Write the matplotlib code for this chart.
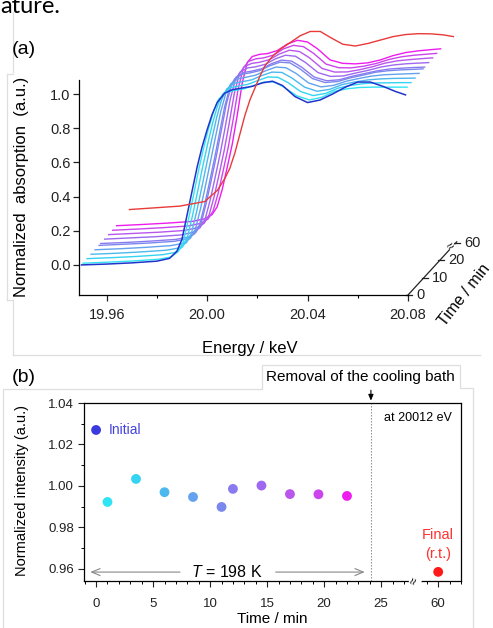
import matplotlib
matplotlib.use('Agg')
import matplotlib.pyplot as plt
import numpy as np
from matplotlib.lines import Line2D

plt.rcParams['font.family'] = ['Liberation Sans', 'DejaVu Sans']
plt.rcParams['mathtext.fontset'] = 'custom'
plt.rcParams['mathtext.it'] = 'Liberation Sans:italic'
plt.rcParams['mathtext.rm'] = 'Liberation Sans'

# ---------------- data: panel (a) spectra ----------------
energy = [19.950, 19.960, 19.970, 19.980, 19.985, 19.988, 19.990, 19.992, 19.994, 19.996,
          19.998, 20.000, 20.002, 20.004, 20.007, 20.010, 20.014, 20.018, 20.022, 20.026,
          20.030, 20.035, 20.040, 20.045, 20.050, 20.055, 20.060, 20.065, 20.070, 20.075, 20.079]

spec_initial = [0.000, 0.005, 0.012, 0.022, 0.038, 0.080, 0.150, 0.290, 0.430, 0.570,
                0.690, 0.790, 0.880, 0.950, 1.005, 1.025, 1.035, 1.045, 1.065, 1.075,
                1.050, 0.985, 0.950, 0.965, 1.000, 1.040, 1.070, 1.070, 1.045, 1.015, 0.995]

spec_01min = [0.000, 0.006, 0.013, 0.023, 0.036, 0.070, 0.130, 0.260, 0.400, 0.545,
              0.675, 0.790, 0.890, 0.960, 1.000, 1.010, 1.020, 1.040, 1.060, 1.060,
              1.030, 0.980, 0.955, 0.970, 1.005, 1.020, 1.028, 1.030, 1.030, 1.030, 1.030]
spec_03min = [0.001, 0.007, 0.014, 0.024, 0.037, 0.070, 0.128, 0.255, 0.393, 0.537,
              0.672, 0.796, 0.898, 0.964, 1.001, 1.010, 1.021, 1.043, 1.064, 1.062,
              1.031, 0.979, 0.955, 0.968, 0.999, 1.015, 1.025, 1.029, 1.030, 1.031, 1.031]
spec_06min = [0.001, 0.007, 0.015, 0.025, 0.038, 0.070, 0.126, 0.249, 0.387, 0.529,
              0.669, 0.802, 0.907, 0.968, 1.002, 1.010, 1.022, 1.047, 1.067, 1.065,
              1.032, 0.979, 0.955, 0.966, 0.994, 1.009, 1.021, 1.027, 1.030, 1.031, 1.032]
spec_08min = [0.002, 0.008, 0.016, 0.026, 0.039, 0.070, 0.125, 0.244, 0.380, 0.522,
              0.666, 0.808, 0.915, 0.973, 1.003, 1.011, 1.024, 1.050, 1.071, 1.067,
              1.034, 0.978, 0.955, 0.964, 0.988, 1.004, 1.018, 1.026, 1.029, 1.032, 1.034]
spec_11min = [0.002, 0.009, 0.016, 0.026, 0.040, 0.070, 0.123, 0.238, 0.374, 0.514,
              0.663, 0.814, 0.924, 0.977, 1.004, 1.011, 1.025, 1.053, 1.074, 1.070,
              1.035, 0.978, 0.955, 0.961, 0.982, 0.998, 1.015, 1.024, 1.029, 1.032, 1.035]
spec_12min = [0.003, 0.009, 0.017, 0.027, 0.041, 0.070, 0.122, 0.237, 0.371, 0.511,
              0.662, 0.816, 0.926, 0.978, 1.004, 1.011, 1.025, 1.055, 1.076, 1.070,
              1.035, 0.977, 0.955, 0.961, 0.981, 0.997, 1.013, 1.024, 1.029, 1.033, 1.035]
spec_14min = [0.003, 0.010, 0.017, 0.027, 0.042, 0.070, 0.120, 0.231, 0.365, 0.503,
              0.659, 0.822, 0.935, 0.982, 1.005, 1.011, 1.026, 1.058, 1.079, 1.073,
              1.036, 0.977, 0.955, 0.958, 0.975, 0.991, 1.010, 1.022, 1.029, 1.033, 1.036]
spec_17min = [0.004, 0.011, 0.018, 0.028, 0.043, 0.070, 0.119, 0.226, 0.358, 0.496,
              0.656, 0.828, 0.943, 0.987, 1.006, 1.012, 1.028, 1.061, 1.083, 1.075,
              1.038, 0.976, 0.955, 0.956, 0.969, 0.986, 1.007, 1.021, 1.028, 1.034, 1.038]
spec_19min = [0.004, 0.011, 0.019, 0.029, 0.044, 0.070, 0.117, 0.220, 0.352, 0.488,
              0.653, 0.834, 0.952, 0.991, 1.007, 1.012, 1.029, 1.065, 1.086, 1.078,
              1.039, 0.976, 0.955, 0.954, 0.964, 0.980, 1.003, 1.019, 1.028, 1.034, 1.039]
spec_22min = [0.005, 0.012, 0.020, 0.030, 0.045, 0.070, 0.115, 0.215, 0.345, 0.480,
              0.650, 0.840, 0.960, 0.995, 1.008, 1.012, 1.030, 1.068, 1.090, 1.080,
              1.040, 0.975, 0.955, 0.952, 0.958, 0.975, 1.000, 1.018, 1.028, 1.035, 1.040]

spec_final = [0.018, 0.028, 0.038, 0.065, 0.130, 0.200, 0.260, 0.350, 0.460, 0.570,
              0.660, 0.730, 0.800, 0.860, 0.915, 0.955, 0.995, 1.035, 1.060, 1.060,
              1.025, 0.985, 0.975, 0.990, 1.010, 1.030, 1.042, 1.047, 1.046, 1.040, 1.030]

# ---------------- data: panel (b) ----------------
time_min = [1, 3.5, 6, 8.5, 11, 12, 14.5, 17, 19.5, 22]
intensity = [0.9923, 1.0034, 0.9970, 0.9947, 0.9899, 0.9986, 1.0002, 0.9961, 0.9960, 0.9952]
initial_time = 0
initial_intensity = 1.027
final_time_label = '60'
final_intensity = 0.9586

b_xtick_labels = ['0', '5', '10', '15', '20', '25', '60']
a_time_labels = ['0', '10', '20', '60']

# ---------------- styles / layout ----------------
mid_colors = ['#30e4f4', '#34d4f2', '#4cb8ee', '#62a2ee', '#7a88ee', '#8a7af0',
              '#9e68f0', '#b856ee', '#cc44ee', '#ee1cee']
initial_color = '#3a3ade'
final_color = '#ff1a1a'
spec_line_initial = '#2233cc'
spec_line_final = '#e83a3a'

W, H = 493, 628
def fx(px):
    return px / W
def fy(py):
    return 1 - py / H

fig = plt.figure(figsize=(4.93, 6.28), dpi=100)

# light frame artifacts
frame_col = '#dedede'
for xs, ys in [([13, 13], [12, 72]), ([7, 7], [74, 300]), ([7, 13], [74, 74]), ([7, 13], [300, 300]),
               ([13, 13], [300, 355]), ([13, 480], [355, 355]),
               ([3, 3, 262, 262, 460, 460, 473, 473], [628, 389, 389, 365, 365, 388, 388, 628])]:
    fig.add_artist(Line2D([fx(x) for x in xs], [fy(y) for y in ys], color=frame_col, lw=0.9))

fig.text(fx(0), fy(13), 'ature.', fontsize=17, family=['Lato', 'DejaVu Sans'], ha='left', va='baseline')
fig.text(fx(12), fy(50), '(a)', fontsize=14, ha='left', va='center')
fig.text(fx(12), fy(377), '(b)', fontsize=14, ha='left', va='center')

# ---------------- panel (a) ----------------
axA = fig.add_axes([fx(79), fy(295), fx(408) - fx(79), fy(80) - fy(295)])
x0, x1 = 19.949, 20.08
y0, y1 = -0.176, 1.082
axA.set_xlim(x0, x1)
axA.set_ylim(y0, y1)
kx, ky = 0.000636, 0.0102  # perspective offset per minute (keV, a.u.)

E = np.array(energy)
mids = [spec_01min, spec_03min, spec_06min, spec_08min, spec_11min, spec_12min,
        spec_14min, spec_17min, spec_19min, spec_22min]
for t, spec, col in list(zip(time_min, mids, mid_colors))[::-1]:
    axA.plot(E + t * kx, np.array(spec) + t * ky, color=col, lw=1.0, clip_on=False,
             solid_joinstyle='round')
axA.plot(E, np.array(spec_initial), color=spec_line_initial, lw=1.1, clip_on=False,
         solid_joinstyle='round')
t_final_eff = 30
axA.plot(E + t_final_eff * kx, np.array(spec_final) + t_final_eff * ky,
         color=spec_line_final, lw=1.0, clip_on=False, solid_joinstyle='round')

for s in ['top', 'right']:
    axA.spines[s].set_visible(False)
axA.spines['left'].set_linewidth(0.9)
axA.spines['bottom'].set_linewidth(0.9)
axA.set_xticks([19.96, 20.00, 20.04, 20.08])
axA.set_xticklabels(['19.96', '20.00', '20.04', '20.08'])
axA.set_xticks([19.98, 20.02, 20.06], minor=True)
axA.set_yticks([0.0, 0.2, 0.4, 0.6, 0.8, 1.0])
axA.set_yticklabels(['0.0', '0.2', '0.4', '0.6', '0.8', '1.0'])
axA.tick_params(axis='both', which='major', direction='out', length=4, width=0.9, labelsize=10.5,
                colors='#222222')
axA.tick_params(axis='x', which='major', pad=5)
axA.tick_params(axis='y', which='major', pad=2)
axA.tick_params(axis='x', which='minor', direction='out', length=2.5, width=0.8)

# time axis (pseudo-3D)
t_pos = [0, 10, 20, 30]
axA.plot([x1, x1 + 30.5 * kx], [y0, y0 + 30.5 * ky], color='#222222', lw=0.9, clip_on=False)
for p, lab in zip(t_pos, a_time_labels):
    xp, yp = x1 + p * kx, y0 + p * ky
    axA.plot([xp - 0.0006, xp + 0.0016], [yp, yp], color='#222222', lw=0.9, clip_on=False)
    axA.annotate(lab, xy=(xp, yp), xytext=(6, 0), textcoords='offset points', ha='left',
                 va='center', fontsize=10.5, annotation_clip=False, color='#222222')
xb, yb = x1 + 27.6 * kx, y0 + 27.6 * ky
axA.text(xb, yb, '≈', fontsize=9, rotation=40, ha='center', va='center', clip_on=False,
         bbox=dict(boxstyle='square,pad=0', fc='white', ec='none'))
fig.text(fx(464), fy(295), 'Time / min', fontsize=11.5, rotation=52, ha='center', va='center')

fig.text(fx(22), fy(187), 'Normalized  absorption  (a.u.)', fontsize=12, rotation=90,
         ha='center', va='center')
fig.text(fx(250), fy(348), 'Energy / keV', fontsize=12, ha='center', va='center')

# ---------------- panel (b) ----------------
axB = fig.add_axes([fx(84), fy(581), fx(461) - fx(84), fy(403) - fy(581)])
axB.set_xlim(-1.06, 32)
axB.set_ylim(0.9542, 1.04)
final_pos = 30
axB.scatter(time_min, intensity, c=mid_colors, s=50, edgecolors='none', zorder=3)
axB.scatter([initial_time], [initial_intensity], c=initial_color, s=50, edgecolors='none', zorder=3)
axB.scatter([final_pos], [final_intensity], c=final_color, s=50, edgecolors='none', zorder=3)

axB.set_yticks([0.96, 0.98, 1.00, 1.02, 1.04])
axB.set_yticklabels(['0.96', '0.98', '1.00', '1.02', '1.04'])
axB.set_yticks([0.97, 0.99, 1.01, 1.03], minor=True)
axB.set_xticks([0, 5, 10, 15, 20, 25, 30])
axB.set_xticklabels(b_xtick_labels)
axB.set_xticks([m for m in range(-1, 33) if m % 5 != 0 and m != 28 or m == 29 or m == 31], minor=True)
axB.tick_params(axis='both', which='major', direction='out', length=4, width=0.8, labelsize=9.5,
                colors='#222222')
axB.tick_params(axis='both', which='minor', direction='out', length=2, width=0.7)
axB.tick_params(axis='x', which='major', pad=8)
axB.tick_params(axis='y', which='major', pad=3)
for s in axB.spines.values():
    s.set_linewidth(0.9)

axB.axvline(24.1, color='#888888', lw=0.8, ls=(0, (1.2, 1.5)), zorder=1)
axB.annotate('', xy=(24.1, 1.0398), xytext=(24.1, 1.0475), xycoords='data', textcoords='data',
             annotation_clip=False,
             arrowprops=dict(arrowstyle='-|>,head_length=0.35,head_width=0.15', color='black', lw=0.8))
fig.text(fx(360), fy(377), 'Removal of the cooling bath', fontsize=11, ha='center', va='center')
axB.text(28.2, 1.0328, 'at 20012 eV', fontsize=9, ha='center', va='center')
axB.text(1.15, initial_intensity, 'Initial', fontsize=10, ha='left', va='center', color='#4444dd')
axB.text(final_pos, 0.9764, 'Final', fontsize=10.5, ha='center', va='center', color='#ff3030')
axB.text(final_pos, 0.9672, '(r.t.)', fontsize=10.5, ha='center', va='center', color='#ff3030')

arrow_y = 0.9585
ap = dict(arrowstyle='->,head_length=0.6,head_width=0.25', color='#888888', lw=0.8)
axB.annotate('', xy=(-0.75, arrow_y), xytext=(7.6, arrow_y), arrowprops=ap)
axB.annotate('', xy=(23.8, arrow_y), xytext=(15.5, arrow_y), arrowprops=ap)
axB.text(11.5, arrow_y, '$T$ = 198 K', fontsize=11.5, ha='center', va='center')

axB.text(28, 0.9542, '≈', fontsize=9, rotation=70, ha='center', va='center', clip_on=False,
         bbox=dict(boxstyle='square,pad=0', fc='white', ec='none'), zorder=5)

fig.text(fx(22), fy(490), 'Normalized intensity (a.u.)', fontsize=10.5, rotation=90,
         ha='center', va='center')
fig.text(fx(272), fy(619), 'Time / min', fontsize=11, ha='center', va='center')

fig.savefig('out.png', dpi=100)
